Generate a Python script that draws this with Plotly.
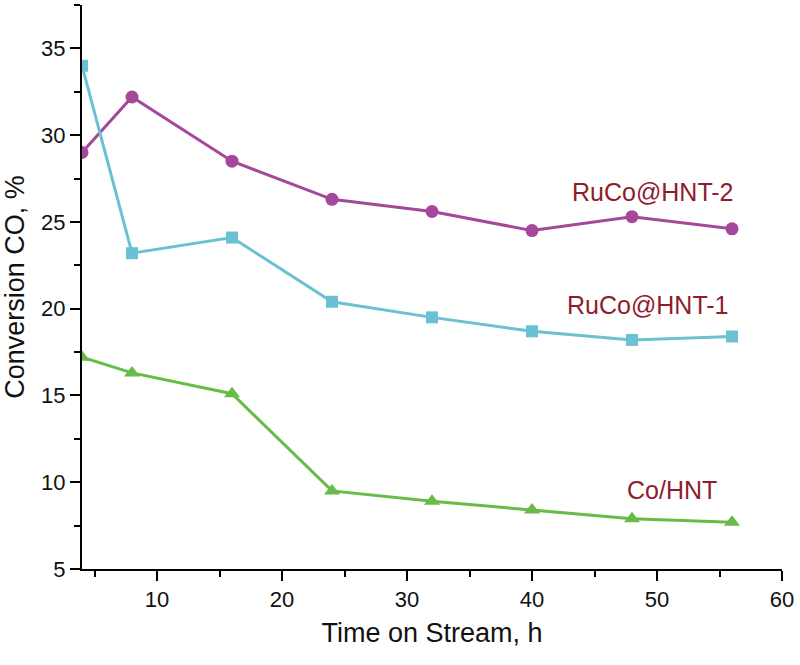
import plotly.graph_objects as go

time_h = [4, 8, 16, 24, 32, 40, 48, 56]
ruco_hnt2 = [29.0, 32.2, 28.5, 26.3, 25.6, 24.5, 25.3, 24.6]
ruco_hnt1 = [34.0, 23.2, 24.1, 20.4, 19.5, 18.7, 18.2, 18.4]
co_hnt = [17.2, 16.3, 15.1, 9.5, 8.9, 8.4, 7.9, 7.7]

FONT = "Liberation Sans, Arial, sans-serif"
LABEL_COLOR = "#8e1c2c"

fig = go.Figure()
fig.add_trace(go.Scatter(x=time_h, y=ruco_hnt2, mode="lines+markers", name="RuCo@HNT-2",
                         line=dict(color="#a5479a", width=3),
                         marker=dict(symbol="circle", size=13, color="#a5479a")))
fig.add_trace(go.Scatter(x=time_h, y=ruco_hnt1, mode="lines+markers", name="RuCo@HNT-1",
                         line=dict(color="#6cc0d4", width=3),
                         marker=dict(symbol="square", size=12, color="#6cc0d4")))
fig.add_trace(go.Scatter(x=time_h, y=co_hnt, mode="lines+markers", name="Co/HNT",
                         line=dict(color="#67bc47", width=3),
                         marker=dict(symbol="triangle-up", size=14, color="#67bc47")))

labels = [("RuCo@HNT-2", 43.0, 26.75), ("RuCo@HNT-1", 42.6, 20.2), ("Co/HNT", 47.4, 9.55)]
for text, lx, ly in labels:
    fig.add_annotation(x=lx, y=ly, text=text, showarrow=False, xanchor="left", yanchor="middle",
                       font=dict(family=FONT, size=25, color=LABEL_COLOR))

axis_common = dict(showline=True, linecolor="black", linewidth=2, ticks="outside",
                   ticklen=10, tickwidth=2, tickcolor="black", showgrid=False, zeroline=False,
                   tickfont=dict(family=FONT, size=22, color="#111111"))

fig.update_xaxes(range=[4, 60], tickvals=[10, 20, 30, 40, 50, 60],
                 minor=dict(tickvals=[5, 15, 25, 35, 45, 55], ticks="outside", ticklen=6,
                            tickwidth=2, tickcolor="black"),
                 title=dict(text="Time on Stream, h", font=dict(family=FONT, size=27, color="#111111"),
                            standoff=12),
                 **axis_common)
fig.update_yaxes(range=[5, 37.5], tickvals=[5, 10, 15, 20, 25, 30, 35],
                 minor=dict(tickvals=[7.5, 12.5, 17.5, 22.5, 27.5, 32.5, 37.5], ticks="outside",
                            ticklen=6, tickwidth=2, tickcolor="black"),
                 title=dict(text="Conversion CO, %", font=dict(family=FONT, size=27, color="#111111"),
                            standoff=10),
                 **axis_common)

fig.update_layout(width=800, height=665, margin=dict(l=82, r=18, t=5, b=96, autoexpand=False),
                  plot_bgcolor="white", paper_bgcolor="white", showlegend=False)

fig.write_html("out.html", config={"displayModeBar": False},
               post_script="document.body.style.margin='0';document.body.style.overflow='hidden';")
